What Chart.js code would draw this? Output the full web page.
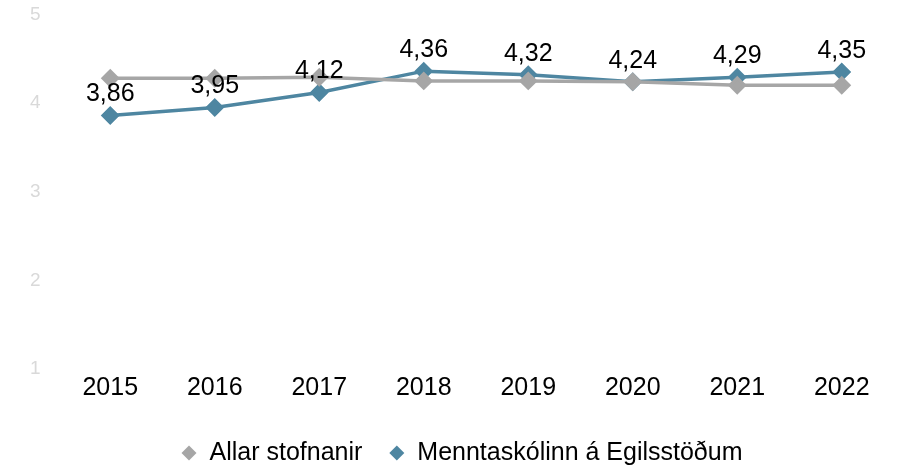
<!DOCTYPE html>
<html>
<head>
<meta charset="utf-8">
<script src="https://cdn.jsdelivr.net/npm/chart.js@4"></script>
<style>
  html, body { margin: 0; padding: 0; background: #fff; }
  #wrap { width: 905px; height: 468px; }
</style>
</head>
<body>
<div id="wrap"><canvas id="chart"></canvas></div>
<script>
const years = ["2015", "2016", "2017", "2018", "2019", "2020", "2021", "2022"];
const allar = [4.28, 4.28, 4.29, 4.25, 4.25, 4.24, 4.20, 4.20];
const me = [3.86, 3.95, 4.12, 4.36, 4.32, 4.24, 4.29, 4.35];
const yTicks = [1, 2, 3, 4, 5];

const FONT = "'Liberation Sans', Arial, sans-serif";

// value labels above the blue line, Icelandic decimal comma
const valueLabels = {
  id: "valueLabels",
  afterDatasetsDraw(chart) {
    const ctx = chart.ctx;
    const meta = chart.getDatasetMeta(1);
    ctx.save();
    ctx.font = "25px " + FONT;
    ctx.fillStyle = "#000";
    ctx.textAlign = "center";
    ctx.textBaseline = "middle";
    meta.data.forEach((pt, i) => {
      ctx.fillText(me[i].toFixed(2).replace(".", ","), pt.x, pt.y - 21);
    });
    ctx.restore();
  }
};

// bottom legend with wider gap between items than the built-in one allows
const bottomLegend = {
  id: "bottomLegend",
  afterDraw(chart) {
    const ctx = chart.ctx;
    const sets = chart.data.datasets;
    const r = 7.5, gap = 13, itemGap = 27;
    const y = 453;
    ctx.save();
    ctx.font = "25px " + FONT;
    ctx.textBaseline = "middle";
    let total = 0;
    sets.forEach((ds, i) => {
      total += 2 * r + gap + ctx.measureText(ds.label).width;
      if (i > 0) total += itemGap;
    });
    let x = 462 - total / 2;
    sets.forEach((ds) => {
      ctx.fillStyle = ds.borderColor;
      ctx.beginPath();
      ctx.moveTo(x, y);
      ctx.lineTo(x + r, y - r);
      ctx.lineTo(x + 2 * r, y);
      ctx.lineTo(x + r, y + r);
      ctx.closePath();
      ctx.fill();
      x += 2 * r + gap;
      ctx.fillStyle = "#000";
      ctx.fillText(ds.label, x, y);
      x += ctx.measureText(ds.label).width + itemGap;
    });
    ctx.restore();
  }
};

new Chart(document.getElementById("chart"), {
  type: "line",
  data: {
    labels: years,
    datasets: [
      {
        label: "Allar stofnanir",
        data: allar,
        borderColor: "#a6a6a6",
        backgroundColor: "#a6a6a6",
        borderWidth: 3.5,
        pointStyle: "rectRot",
        pointRadius: 7,
        pointHoverRadius: 7,
        tension: 0,
      },
      {
        label: "Menntaskólinn á Egilsstöðum",
        data: me,
        borderColor: "#4e86a1",
        backgroundColor: "#4e86a1",
        borderWidth: 3.5,
        pointStyle: "rectRot",
        pointRadius: 7,
        pointHoverRadius: 7,
        tension: 0,
      },
    ],
  },
  options: {
    responsive: true,
    maintainAspectRatio: false,
    animation: false,
    layout: {
      padding: { left: 30, right: 11, top: 0, bottom: 0 },
    },
    scales: {
      x: {
        offset: true,
        grid: { display: false, drawTicks: false },
        border: { display: false },
        ticks: {
          color: "#000",
          padding: 4,
          font: { family: FONT, size: 25 },
        },
        afterFit(axis) {
          axis.height += 61;
        },
      },
      y: {
        min: 1,
        max: 5,
        afterBuildTicks(axis) {
          axis.ticks = yTicks.map((v) => ({ value: v }));
        },
        afterFit(axis) {
          axis.width = 28;
        },
        grid: { display: false, drawTicks: false },
        border: { display: false },
        ticks: {
          color: "#d9d9d9",
          padding: 3,
          crossAlign: "far",
          font: { family: FONT, size: 19 },
        },
      },
    },
    plugins: {
      legend: { display: false },
      tooltip: { enabled: false },
    },
  },
  plugins: [valueLabels, bottomLegend],
});
</script>
</body>
</html>
